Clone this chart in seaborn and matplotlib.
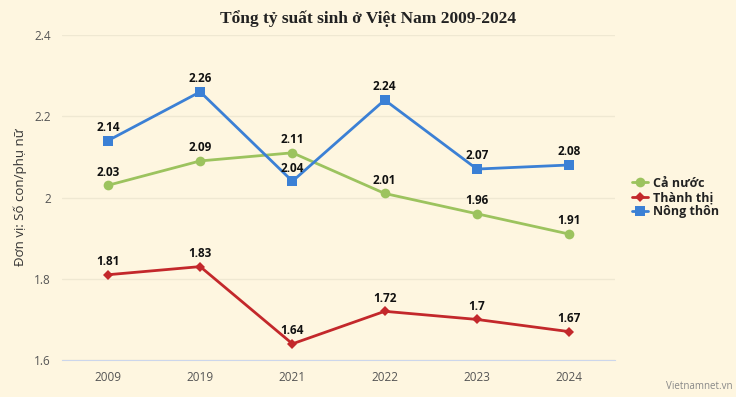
import matplotlib
matplotlib.use("Agg")
import matplotlib.pyplot as plt
import seaborn as sns
import pandas as pd

years = ["2009", "2019", "2021", "2022", "2023", "2024"]
ca_nuoc = [2.03, 2.09, 2.11, 2.01, 1.96, 1.91]
thanh_thi = [1.81, 1.83, 1.64, 1.72, 1.70, 1.67]
nong_thon = [2.14, 2.26, 2.04, 2.24, 2.07, 2.08]
series_names = ["Cả nước", "Thành thị", "Nông thôn"]

bg = "#fef6e0"
colors = {"Cả nước": "#9cc35e", "Thành thị": "#c3282b", "Nông thôn": "#3b80d5"}
markers = {"Cả nước": "o", "Thành thị": "D", "Nông thôn": "s"}

df = pd.DataFrame({"year": years * 3,
                   "value": ca_nuoc + thanh_thi + nong_thon,
                   "series": [s for s in series_names for _ in years]})

sns.set_style("white")
plt.rcParams["font.family"] = ["Open Sans", "DejaVu Sans"]

fig = plt.figure(figsize=(7.36, 3.97), dpi=100, facecolor=bg)
ax = fig.add_axes([0.084, 0.093, 0.752, 0.819])
ax.set_facecolor(bg)

for name in series_names:
    sub = df[df["series"] == name]
    sns.lineplot(data=sub, x="year", y="value", ax=ax, color=colors[name],
                 marker=markers[name], markersize=7 if name != "Thành thị" else 5,
                 markeredgewidth=0, linewidth=2, label=name, sort=False)

# data labels above every point
for name in series_names:
    sub = df[df["series"] == name].reset_index(drop=True)
    for i, row in sub.iterrows():
        ax.annotate(f"{row['value']:g}", (i, row["value"]), xytext=(0, 9.5),
                    textcoords="offset points", ha="center", va="center",
                    fontsize=8.5, fontweight="bold", color="#111111")

ax.set_xlim(-0.5, 5.5)
ax.set_ylim(1.6, 2.4)
ax.set_yticks([1.6, 1.8, 2.0, 2.2, 2.4])
ax.set_yticklabels(["1.6", "1.8", "2", "2.2", "2.4"])
ax.grid(axis="y", color="#efe8d2", linewidth=1)
ax.set_axisbelow(True)
for s in ["top", "right", "left"]:
    ax.spines[s].set_visible(False)
ax.spines["bottom"].set_color("#ccd6eb")
ax.tick_params(axis="both", length=0, labelsize=8.5, labelcolor="#555555", pad=8)
ax.set_xlabel("")
ax.set_ylabel("Đơn vị: Số con/phụ nữ", fontsize=9.5, color="#333333", labelpad=5)

fig.suptitle("Tổng tỷ suất sinh ở Việt Nam 2009-2024", x=0.5, y=0.975,
             fontsize=12.5, fontweight="bold", family="Liberation Serif", color="#222222")

leg = ax.legend(loc="center left", bbox_to_anchor=(1.01, 0.5), frameon=False,
                fontsize=9, handlelength=1.3, handletextpad=0.4, labelspacing=0.1)
for t in leg.get_texts():
    t.set_color("#222222")
    t.set_fontweight("bold")

fig.text(0.995, 0.012, "Vietnamnet.vn", ha="right", va="bottom", fontsize=7, color="#888888")

fig.savefig("out.png", dpi=100, facecolor=bg)
